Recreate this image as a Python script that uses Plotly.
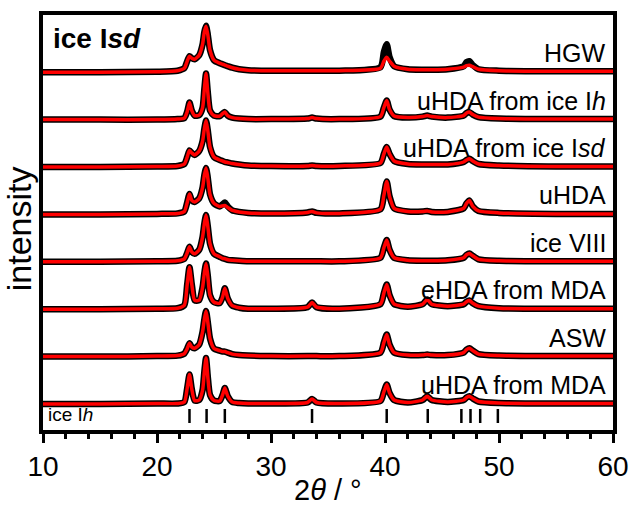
import plotly.graph_objects as go

# 2theta sampling positions (degrees)
two_theta = [10, 15, 20, 21.8, 22.4, 22.65, 22.85, 23.05, 23.3, 23.7,
             24.0, 24.15, 24.3, 24.45, 24.65, 25.0, 25.5, 25.75, 25.95, 26.2,
             26.6, 27.2, 28.0, 30.0, 33.2, 33.6, 34.0, 36.0, 39.6, 39.9,
             40.15, 40.4, 40.8, 42.0, 43.3, 43.7, 44.1, 45.5, 46.9, 47.15,
             47.4, 47.7, 48.2, 50, 55, 60]

labels = ["HGW", "uHDA from ice I<i>h</i>", "uHDA from ice I<i>sd</i>", "uHDA",
          "ice VIII", "eHDA from MDA", "ASW", "uHDA from MDA"]

# measured patterns (intensity, arbitrary units)
hgw_data = [0, 0, 0.5, 1.5, 4, 11, 16, 14, 13, 17, 28, 40, 46.5, 38, 22, 12, 9, 8, 7, 6,
            4.5, 3, 2, 1.5, 1.5, 1.5, 1.5, 1.5, 5, 20, 28, 15, 6, 3, 2.5, 2.5, 2.5, 3, 6, 10,
            11, 7, 3, 1.5, 1, 1]
uhda_ih_data = [0, 0, 0, 0.5, 1.5, 8, 17, 9, 4, 4.5, 12, 30, 46, 28, 9, 4, 3.5, 6, 7.5, 4,
                2, 1, 0.5, 0.5, 1, 2, 1, 0.5, 3, 12, 19, 10, 3.5, 2, 3, 4, 3, 2, 4, 6.5,
                7.5, 5, 2.5, 1, 0.5, 0.5]
uhda_isd_data = [0, 0, 0.5, 1, 3, 10, 16.5, 14, 12, 16, 26, 38, 46.5, 37, 20, 10, 7, 6, 5, 4.5,
                 3.5, 2.5, 1.5, 1, 1, 1.5, 1, 1, 4, 13, 20, 13, 6, 3, 2.5, 2.5, 2.5, 2.5, 5, 7,
                 8.3, 6, 3, 1.5, 0.5, 0.5]
uhda_data = [0, 0, 0.5, 1, 3, 12, 20.5, 14, 12.5, 16, 27, 39, 46.5, 37, 20, 11, 8, 10, 12, 8,
             4, 2.5, 1.5, 1, 2, 3, 1.5, 1, 5, 19, 33, 18, 6, 3, 3, 3.5, 2.5, 2.5, 6, 11,
             14, 8, 3.5, 1.5, 0.5, 0.5]
ice8_data = [0, 0, 0.5, 1, 3, 9, 15, 10, 8, 12, 25, 38, 46.7, 36, 18, 8, 5, 3.5, 3, 2,
             1.5, 1, 0.5, 0.5, 0.5, 0.5, 0.5, 0.5, 4, 14, 21.7, 12, 4, 1.5, 1, 1, 1, 1.5, 4, 7,
             8.3, 6, 2.5, 1, 0.5, 0.5]
ehda_data = [0, 0, 0.5, 1, 4, 25, 42, 25, 9, 9, 22, 36, 45.6, 34, 14, 7, 6, 12, 21, 11,
             3.5, 1.5, 0.5, 0.5, 2, 6.6, 2, 0.5, 5, 16, 24.7, 14, 5, 2.5, 5, 9.7, 5, 3, 5, 7.5,
             8.7, 6, 3, 1, 0.5, 0.5]
asw_data = [0, 0, 0.5, 1, 3, 8, 13.3, 9.5, 8.3, 12, 25, 37, 45.7, 35, 18, 8, 6, 5, 5, 4,
            2.5, 1.5, 1, 0.5, 0.5, 0.5, 0.5, 0.5, 4, 14, 22, 12, 4, 1.5, 1.5, 2, 1.5, 1.5, 4, 7,
            8.3, 6, 2.5, 1, 0.5, 0.5]
uhda_mda_data = [0, 0, 0.5, 0.5, 2, 16, 29.4, 15, 3.5, 4, 14, 32, 46, 28, 9, 3.5, 3, 9, 16, 8,
                 2, 1, 0.5, 0.5, 1.5, 5, 1.5, 0.5, 3, 12, 19.4, 11, 4, 1.5, 4, 7.7, 4, 2, 4, 6.5,
                 7.7, 5.5, 2.5, 1, 0.5, 0.5]

# fitted profiles (red)
hgw_fit = [0, 0, 0.5, 1.5, 4, 11, 16, 14, 13, 17, 28, 40, 46, 38, 22, 12, 9, 8, 7, 6,
           4.5, 3, 2, 1.5, 1.5, 1.5, 1.5, 1.5, 4, 11, 15, 11, 6, 3, 2.5, 2.5, 2.5, 3, 5, 6.5,
           7, 5.5, 3, 1.5, 1, 1]
uhda_fit = [0, 0, 0.5, 1, 3, 12, 20.5, 14, 12.5, 16, 27, 39, 46.5, 37, 20, 11, 8, 8.5, 9, 7,
            4, 2.5, 1.5, 1, 2, 3, 1.5, 1, 5, 19, 33, 18, 6, 3, 3, 3.5, 2.5, 2.5, 6, 11,
            14, 8, 3.5, 1.5, 0.5, 0.5]

data_sets = [hgw_data, uhda_ih_data, uhda_isd_data, uhda_data, ice8_data, ehda_data, asw_data, uhda_mda_data]
fit_sets = [hgw_fit, uhda_ih_data, uhda_isd_data, uhda_fit, ice8_data, ehda_data, asw_data, uhda_mda_data]

ice_ih_reflections = [22.85, 24.35, 25.95, 33.6, 40.15, 43.75, 46.7, 47.5, 48.35, 49.9]

offset_step = 47.4

FONT = "Liberation Sans, Arial"

fig = go.Figure()
n = len(labels)
for i, (lab, d, f) in enumerate(zip(labels, data_sets, fit_sets)):
    off = (n - 1 - i) * offset_step
    fig.add_trace(go.Scatter(x=two_theta, y=[v + off for v in d], mode="lines",
                             line=dict(color="black", width=6.5, shape="spline", smoothing=0.6),
                             showlegend=False, hoverinfo="skip"))
    fig.add_trace(go.Scatter(x=two_theta, y=[v + off for v in f], mode="lines",
                             line=dict(color="#ff0000", width=3.5, shape="spline", smoothing=0.6),
                             showlegend=False, hoverinfo="skip"))
    fig.add_annotation(x=0.991, xref="paper", xanchor="right", y=off + 19, yref="y",
                       yanchor="middle", text=lab, showarrow=False,
                       font=dict(family=FONT, size=25, color="black"))

# ice Ih reflection markers
tx, ty = [], []
for r in ice_ih_reflections:
    tx += [r, r, None]
    ty += [-5, -19, None]
fig.add_trace(go.Scatter(x=tx, y=ty, mode="lines", line=dict(color="black", width=2.5),
                         showlegend=False, hoverinfo="skip"))

fig.add_annotation(x=0.006, xref="paper", xanchor="left", y=-10, yref="y", yanchor="middle",
                   text="ice I<i>h</i>", showarrow=False,
                   font=dict(family=FONT, size=19, color="black"))
fig.add_annotation(x=0.014, xref="paper", xanchor="left", y=366, yref="y", yanchor="middle",
                   text="<b>ice I<i>sd</i></b>", showarrow=False,
                   font=dict(family=FONT, size=28, color="black"))
fig.add_annotation(x=0.5, xref="paper", xanchor="center", y=-0.145, yref="paper", yanchor="middle",
                   text="2<i>θ</i> / °", showarrow=False,
                   font=dict(family=FONT, size=29, color="black"))
fig.add_annotation(x=-0.043, xref="paper", xanchor="center", y=0.485, yref="paper", yanchor="middle",
                   text="intensity", textangle=-90, showarrow=False,
                   font=dict(family=FONT, size=34, color="black"))

fig.update_layout(
    width=634, height=508,
    margin=dict(l=43, r=21, t=15, b=78, autoexpand=False),
    paper_bgcolor="white", plot_bgcolor="white",
    font=dict(family=FONT, color="black"),
)
fig.update_xaxes(range=[10, 60], tickmode="array", tickvals=[10, 20, 30, 40, 50, 60],
                 ticks="outside", ticklen=9, tickwidth=3, tickcolor="black",
                 minor=dict(dtick=2, tick0=10, ticks="outside", ticklen=5, tickwidth=3, tickcolor="black"),
                 showline=True, linewidth=3.5, linecolor="black", mirror=True,
                 showgrid=False, zeroline=False, automargin=False,
                 tickfont=dict(family=FONT, size=28, color="black"))
fig.update_yaxes(range=[-26, 389], showticklabels=False, ticks="",
                 showline=True, linewidth=3.5, linecolor="black", mirror=True,
                 showgrid=False, zeroline=False, automargin=False)

fig.write_html("out.html")
